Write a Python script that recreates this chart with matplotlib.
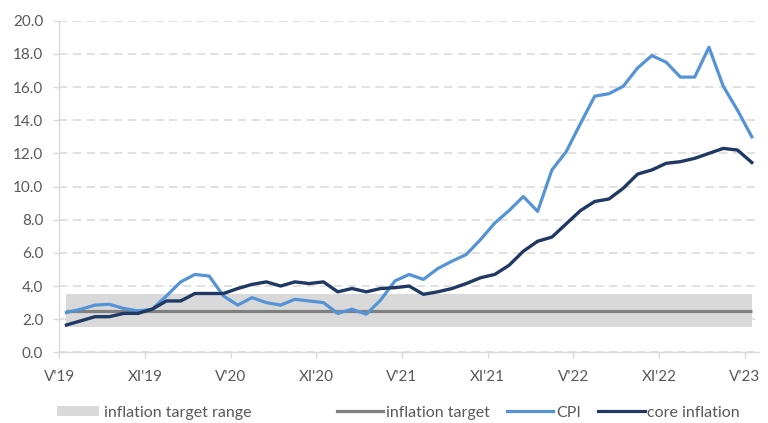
import matplotlib
matplotlib.use("Agg")
import matplotlib.pyplot as plt
from matplotlib.patches import Patch
from matplotlib.lines import Line2D

plt.rcParams['font.family'] = ['Lato', 'DejaVu Sans']

# Monthly data, May 2019 - May 2023
months = list(range(49))
cpi = [2.4, 2.6, 2.85, 2.9, 2.65, 2.5, 2.6, 3.4, 4.25, 4.7, 4.6, 3.4,
       2.85, 3.3, 3.0, 2.85, 3.2, 3.1, 3.0, 2.35, 2.6, 2.3, 3.15, 4.3,
       4.7, 4.4, 5.05, 5.5, 5.9, 6.8, 7.8, 8.55, 9.4, 8.5, 11.0, 12.1,
       13.8, 15.45, 15.6, 16.05, 17.15, 17.9, 17.5, 16.6, 16.6, 18.4, 16.05, 14.6,
       13.0]
core = [1.65, 1.9, 2.15, 2.15, 2.35, 2.35, 2.6, 3.1, 3.1, 3.55, 3.55, 3.55,
        3.85, 4.1, 4.25, 4.0, 4.25, 4.15, 4.25, 3.65, 3.85, 3.65, 3.85, 3.9,
        4.0, 3.5, 3.65, 3.85, 4.15, 4.5, 4.7, 5.25, 6.1, 6.7, 6.95, 7.75,
        8.55, 9.1, 9.25, 9.9, 10.75, 11.0, 11.4, 11.5, 11.7, 12.0, 12.3, 12.2,
        11.45]
target = 2.5
target_low, target_high = 1.5, 3.5
tick_labels = ["V'19", "XI'19", "V'20", "XI'20", "V'21", "XI'21", "V'22", "XI'22", "V'23"]

GRID = '#d9d9d9'
TXT = '#595959'
C_CPI = '#5593d7'
C_CORE = '#1f3864'
C_TGT = '#808080'
C_BAND = '#d9d9d9'

fig = plt.figure(figsize=(7.68, 4.23), dpi=100)
ax = fig.add_axes([0.0772, 0.167, 0.911, 0.784])

ax.fill_between([months[0], months[-1]], target_low, target_high,
                color=C_BAND, lw=0, zorder=1)
ax.plot([months[0], months[-1]], [target, target], color=C_TGT, lw=2.3, zorder=2,
        solid_capstyle='butt')
ax.plot(months, cpi, color=C_CPI, lw=2.3, zorder=3, solid_joinstyle='round')
ax.plot(months, core, color=C_CORE, lw=2.4, zorder=4, solid_joinstyle='round')

ax.set_xlim(-0.5, 48.5)
ax.set_ylim(0, 20)
ax.set_yticks([i * 2 for i in range(11)])
ax.set_yticklabels([f"{v:.1f}" for v in range(0, 21, 2)])
ax.set_xticks([-0.5 + 6 * k for k in range(9)])
ax.set_xticklabels(tick_labels)

ax.grid(axis='y', color=GRID, lw=1.1, linestyle=(0, (5.5, 3.5)), zorder=0)
ax.set_axisbelow(True)
for s in ['top', 'right']:
    ax.spines[s].set_visible(False)
for s in ['left', 'bottom']:
    ax.spines[s].set_color(GRID)
    ax.spines[s].set_linewidth(1.0)

ax.tick_params(axis='y', colors=GRID, labelcolor=TXT, labelsize=11, length=4.5, width=1, pad=7)
ax.tick_params(axis='x', colors=GRID, labelcolor=TXT, labelsize=11, length=4, width=1, pad=9)

# Legend: band entry on its own, then the three line entries
leg_y = 0.024
leg1 = fig.legend(handles=[Patch(facecolor=C_BAND, edgecolor='none', label='inflation target range')],
                  loc='center left', bbox_to_anchor=(57 / 768, leg_y), frameon=False,
                  fontsize=11.5, borderpad=0, borderaxespad=0, handlelength=2.6,
                  handleheight=0.6, handletextpad=0.35, labelcolor=TXT)
line_handles = [Line2D([], [], color=C_TGT, lw=2.3, label='inflation target'),
                Line2D([], [], color=C_CPI, lw=2.3, label='CPI'),
                Line2D([], [], color=C_CORE, lw=2.3, label='core inflation')]
leg2 = fig.legend(handles=line_handles, loc='center left', bbox_to_anchor=(337 / 768, leg_y),
                  frameon=False, fontsize=11.5, ncol=3, borderpad=0, borderaxespad=0,
                  handlelength=2.9, handletextpad=0.15, columnspacing=1.1, labelcolor=TXT)

fig.savefig('out.png', dpi=100)
